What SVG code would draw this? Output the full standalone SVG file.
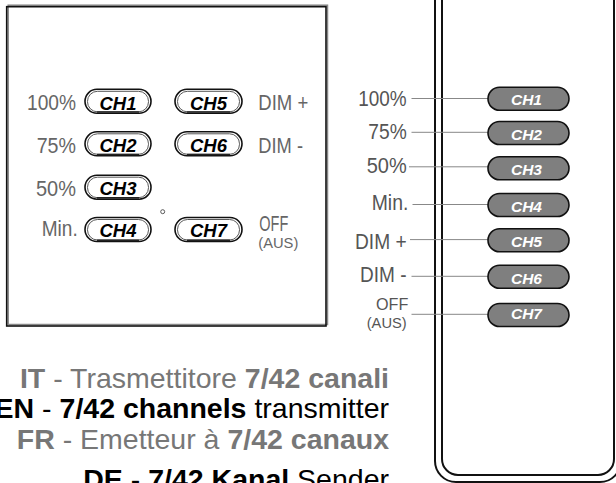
<svg xmlns="http://www.w3.org/2000/svg" width="616" height="483" viewBox="0 0 616 483">
<style>
.lbl{font-family:"Liberation Sans Narrow","Liberation Sans",Arial,sans-serif;font-size:22px;fill:#666}
.lblr{font-family:"Liberation Sans Narrow","Liberation Sans",Arial,sans-serif;font-size:22px;fill:#555}
.po{fill:#fff;stroke:#111;stroke-width:1.6}
.pi{fill:none;stroke:#444;stroke-width:0.9}
.pb{stroke:#222;stroke-width:1.6}
.tl{font-family:"Liberation Sans",Arial,sans-serif;font-size:18.5px;font-weight:bold;font-style:italic;fill:#000;text-anchor:middle}
.pr{fill:#7f7f7f;stroke:#111;stroke-width:1.6}
.tr{font-family:"Liberation Sans",Arial,sans-serif;font-size:15.5px;font-weight:bold;font-style:italic;fill:#fff;text-anchor:middle}
.conn{stroke:#888;stroke-width:1;fill:none}
.body{fill:none;stroke:#111;stroke-width:2}
.cap{font-family:"Liberation Sans",Arial,sans-serif;font-size:28.5px;text-anchor:end}
</style>

<!-- Left panel -->
<g id="panel">
<rect x="8.2" y="5.2" width="319.3" height="319.3" fill="none" stroke="#888" stroke-width="1.5"/>
<rect x="6.7" y="6.7" width="319.3" height="319.3" fill="none" stroke="#111" stroke-width="1.6"/>
<circle cx="162.7" cy="211.7" r="2" fill="none" stroke="#333" stroke-width="0.8"/>
</g>

<g id="L-CH1">
<rect class="po" x="85" y="89.3" width="66" height="24" rx="12"/>
<rect class="pi" x="87.5" y="91.3" width="61" height="20.5" rx="10"/>
<line class="pb" x1="97" y1="112" x2="139" y2="112"/>
<text class="tl" x="118" y="109.5">CH1</text>
</g>
<g id="L-CH2">
<rect class="po" x="85" y="131.8" width="66" height="24" rx="12"/>
<rect class="pi" x="87.5" y="133.8" width="61" height="20.5" rx="10"/>
<line class="pb" x1="97" y1="154.5" x2="139" y2="154.5"/>
<text class="tl" x="118" y="152">CH2</text>
</g>
<g id="L-CH3">
<rect class="po" x="85" y="175.2" width="66" height="24" rx="12"/>
<rect class="pi" x="87.5" y="177.2" width="61" height="20.5" rx="10"/>
<line class="pb" x1="97" y1="197.9" x2="139" y2="197.9"/>
<text class="tl" x="118" y="195">CH3</text>
</g>
<g id="L-CH4">
<rect class="po" x="85" y="217.5" width="66" height="24" rx="12"/>
<rect class="pi" x="87.5" y="219.5" width="61" height="20.5" rx="10"/>
<line class="pb" x1="97" y1="240.2" x2="139" y2="240.2"/>
<text class="tl" x="118" y="237">CH4</text>
</g>
<g id="L-CH5">
<rect class="po" x="175" y="89.3" width="67" height="24" rx="12"/>
<rect class="pi" x="177.5" y="91.3" width="62" height="20.5" rx="10"/>
<line class="pb" x1="187" y1="112" x2="230" y2="112"/>
<text class="tl" x="208.5" y="109.5">CH5</text>
</g>
<g id="L-CH6">
<rect class="po" x="175" y="131.8" width="67" height="24" rx="12"/>
<rect class="pi" x="177.5" y="133.8" width="62" height="20.5" rx="10"/>
<line class="pb" x1="187" y1="154.5" x2="230" y2="154.5"/>
<text class="tl" x="208.5" y="152">CH6</text>
</g>
<g id="L-CH7">
<rect class="po" x="175" y="217.5" width="67" height="24" rx="12"/>
<rect class="pi" x="177.5" y="219.5" width="62" height="20.5" rx="10"/>
<line class="pb" x1="187" y1="240.2" x2="230" y2="240.2"/>
<text class="tl" x="208.5" y="237">CH7</text>
</g>

<g id="left-labels">
<text class="lbl" x="27" y="110" textLength="49" lengthAdjust="spacingAndGlyphs">100%</text>
<text class="lbl" x="36.7" y="153" textLength="39.3" lengthAdjust="spacingAndGlyphs">75%</text>
<text class="lbl" x="36" y="196" textLength="40" lengthAdjust="spacingAndGlyphs">50%</text>
<text class="lbl" x="41.7" y="236" textLength="36" lengthAdjust="spacingAndGlyphs">Min.</text>
<text class="lbl" x="258.3" y="110" textLength="50" lengthAdjust="spacingAndGlyphs">DIM +</text>
<text class="lbl" x="258.3" y="153" textLength="44.7" lengthAdjust="spacingAndGlyphs">DIM -</text>
<text class="lbl" x="259.3" y="230.5" textLength="29" lengthAdjust="spacingAndGlyphs">OFF</text>
<text class="lbl" x="258.3" y="248" style="font-size:15px" textLength="40" lengthAdjust="spacingAndGlyphs">(AUS)</text>
</g>

<!-- Remote body -->
<g id="remote">
<path class="body" d="M435,-3 V461 A21,21 0 0 0 456,482 H600 A21,21 0 0 0 621,461 V-3"/>
<path class="body" d="M442,-3 V459 A16,16 0 0 0 458,475 H598 A16,16 0 0 0 614,459 V-3"/>
</g>

<!-- Connectors -->
<g id="connectors">
<line class="conn" x1="411.5" y1="98.5" x2="488" y2="98.5"/>
<line class="conn" x1="411.5" y1="132.3" x2="488" y2="132.3"/>
<line class="conn" x1="409" y1="166.8" x2="488" y2="166.8"/>
<line class="conn" x1="412.5" y1="204.5" x2="488" y2="204.5"/>
<line class="conn" x1="410" y1="239.6" x2="488" y2="239.6"/>
<line class="conn" x1="411.5" y1="276.3" x2="488" y2="276.3"/>
<line class="conn" x1="411.5" y1="314.3" x2="488" y2="314.3"/>
</g>

<g id="R-CH1"><rect class="pr" x="488" y="87.2" width="81" height="23" rx="11.5"/><text class="tr" x="526.5" y="104.5">CH1</text></g>
<g id="R-CH2"><rect class="pr" x="488" y="121.5" width="81" height="23" rx="11.5"/><text class="tr" x="526.5" y="139.5">CH2</text></g>
<g id="R-CH3"><rect class="pr" x="488" y="156.8" width="81" height="23" rx="11.5"/><text class="tr" x="526.5" y="175">CH3</text></g>
<g id="R-CH4"><rect class="pr" x="488" y="193.5" width="81" height="23" rx="11.5"/><text class="tr" x="526.5" y="211.5">CH4</text></g>
<g id="R-CH5"><rect class="pr" x="488" y="228.8" width="81" height="23" rx="11.5"/><text class="tr" x="526.5" y="247">CH5</text></g>
<g id="R-CH6"><rect class="pr" x="488" y="265.2" width="81" height="23" rx="11.5"/><text class="tr" x="526.5" y="284">CH6</text></g>
<g id="R-CH7"><rect class="pr" x="488" y="303.5" width="81" height="23" rx="11.5"/><text class="tr" x="526.5" y="319">CH7</text></g>

<g id="right-labels">
<text class="lblr" x="358.3" y="106" textLength="48.4" lengthAdjust="spacingAndGlyphs">100%</text>
<text class="lblr" x="368.3" y="139" textLength="38.4" lengthAdjust="spacingAndGlyphs">75%</text>
<text class="lblr" x="366.7" y="173" textLength="40" lengthAdjust="spacingAndGlyphs">50%</text>
<text class="lblr" x="371.7" y="210" textLength="36.6" lengthAdjust="spacingAndGlyphs">Min.</text>
<text class="lblr" x="355" y="249" textLength="51.7" lengthAdjust="spacingAndGlyphs">DIM +</text>
<text class="lblr" x="360" y="282" textLength="46.5" lengthAdjust="spacingAndGlyphs">DIM -</text>
<text class="lblr" x="376" y="310" style="font-size:16px" textLength="32.3" lengthAdjust="spacingAndGlyphs">OFF</text>
<text class="lblr" x="366.7" y="327.5" style="font-size:15px" textLength="40" lengthAdjust="spacingAndGlyphs">(AUS)</text>
</g>

<!-- Caption -->
<g id="caption">
<text class="cap" x="389" y="388" fill="#777"><tspan font-weight="bold">IT</tspan> - Trasmettitore <tspan font-weight="bold">7/42 canali</tspan></text>
<text class="cap" x="389" y="418" fill="#000"><tspan font-weight="bold">EN</tspan> - <tspan font-weight="bold">7/42 channels</tspan> transmitter</text>
<text class="cap" x="389" y="449" fill="#777"><tspan font-weight="bold">FR</tspan> - Emetteur à <tspan font-weight="bold">7/42 canaux</tspan></text>
<text class="cap" x="389" y="489" fill="#000"><tspan font-weight="bold">DE</tspan> - <tspan font-weight="bold">7/42 Kanal</tspan> Sender</text>
</g>
</svg>
